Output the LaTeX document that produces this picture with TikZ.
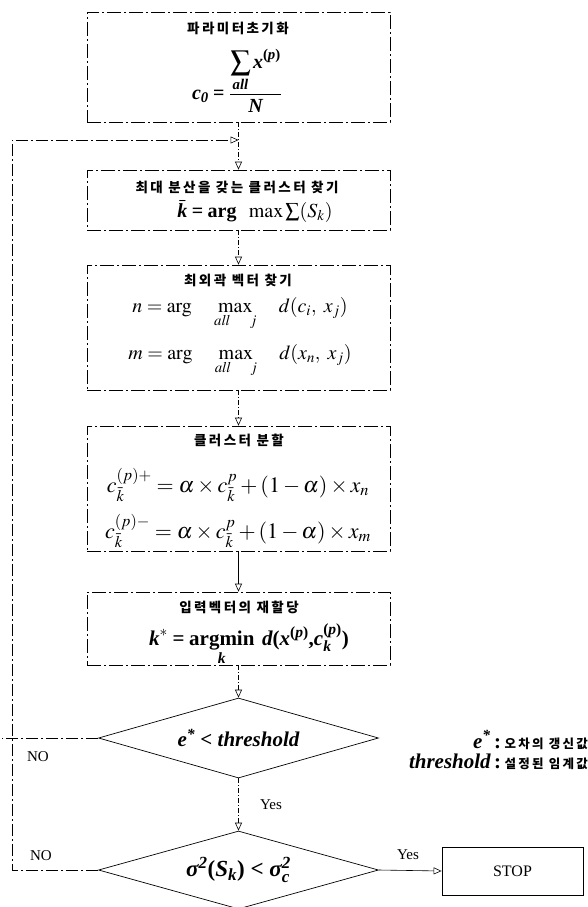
\documentclass[tikz,border=0pt]{standalone}
\usepackage{amsmath}
\usepackage{mathptmx}
\usepackage{fontspec}
\setmainfont{Liberation Serif}
\newfontfamily\kor[LetterSpace=18]{Noto Sans CJK KR}
\usetikzlibrary{arrows.meta,shapes.geometric}
\newcommand{\bix}[1]{\text{\bfseries\itshape #1}}
\newcommand{\bup}[1]{\text{\bfseries #1}}
\begin{document}
\begin{tikzpicture}[x=1pt,y=-1pt,
  box/.style={draw, line width=0.7pt, dash pattern=on 14pt off 3pt on 2pt off 3pt,
              minimum width=303pt, inner sep=0pt},
  conn/.style={line width=0.6pt, dash pattern=on 5pt off 2pt on 1pt off 2pt},
  loopst/.style={line width=0.6pt, dash pattern=on 12pt off 3pt on 2pt off 3pt},
  tipo/.style={-{Triangle[open,length=8pt,width=7pt]}},
  dia/.style={draw, diamond, aspect=3.5, minimum width=280pt, minimum height=80pt,
              inner sep=0pt, line width=0.7pt},
  kt/.style={font=\kor\bfseries\fontsize{13.5}{15}\selectfont, inner sep=0pt},
  lbl/.style={font=\fontsize{15}{17}\selectfont, inner sep=0pt},
  fm/.style={inner sep=0pt, anchor=base}]
\useasboundingbox (0,0) rectangle (588,907);

% boxes
\node[box, minimum height=110pt] (b1) at (238.5,67) {};
\node[box, minimum height=60pt]  (b2) at (238.5,200) {};
\node[box, minimum height=125pt] (b3) at (238.5,327.5) {};
\node[box, minimum height=125pt] (b4) at (238.5,488.5) {};
\node[box, minimum height=73pt]  (b5) at (238.5,628.5) {};

% box 1
\node[kt] (t1) at (238,28) {파라미터초기화};
\node[fm, font=\fontsize{20}{22}\selectfont] (f1) at (237,99)
  {$\bix{c}_{\bix{0}} \mathrel{\bup{=}} \dfrac{\displaystyle\sum_{\bix{all}} \bix{x}^{\bup{(}\bix{p}\bup{)}}}{\bix{N}}$};

% box 2
\node[kt] (t2) at (237,187) {최대 분산을 갖는 클러스터 찾기};
\node[fm, font=\fontsize{20}{22}\selectfont] (f2) at (255,217)
  {$\bar{\bix{k}} \mathrel{\bup{=}} \bup{arg}\ \ \max\textstyle\sum (S_k)$};

% box 3
\node[kt] (t3) at (238,280) {최외곽 벡터 찾기};
\node[fm, font=\fontsize{20}{22}\selectfont] (f3a) at (240,312)
  {$n = \mathrm{arg}\quad \mathop{\max}\limits_{\rule{0pt}{9pt}\mathit{all}\quad j}\quad d(c_i,\ x_j)$};
\node[fm, font=\fontsize{20}{22}\selectfont] (f3b) at (240,359)
  {$m = \mathrm{arg}\quad \mathop{\max}\limits_{\rule{0pt}{9pt}\mathit{all}\quad j}\quad d(x_n,\ x_j)$};

% box 4
\node[kt] (t4) at (239,440) {클러스터 분할};
\node[fm, font=\fontsize{22}{24}\selectfont] (f4a) at (238,492)
  {$c_{\bar{k}}^{(p)+} = \alpha\times c_{\bar{k}}^{p} + (1-\alpha)\times x_n$};
\node[fm, font=\fontsize{22}{24}\selectfont] (f4b) at (238,538)
  {$c_{\bar{k}}^{(p)-} = \alpha\times c_{\bar{k}}^{p} + (1-\alpha)\times x_m$};

% box 5
\node[kt] (t5) at (239,607) {입력벡터의 재할당};
\node[fm, font=\fontsize{21}{23}\selectfont] (f5) at (249,645)
  {$\bix{k}^{*} \mathrel{\bup{=}} \mathop{\bup{argmin}}\limits_{\bix{k}}\ \bix{d}\bup{(}\bix{x}^{\bup{(}\bix{p}\bup{)}}\bup{,}\bix{c}_{\bix{k}}^{\bup{(}\bix{p}\bup{)}}\bup{)}$};

% diamonds
\node[dia, font=\fontsize{21}{23}\selectfont] (d1) at (238.5,738)
  {\bfseries\itshape e$^{\text{\bfseries *}}$ \upshape<\itshape\ threshold};
\node[dia, minimum height=78pt, font=\fontsize{23}{25}\selectfont] (d2) at (238.5,870)
  {\bfseries\itshape σ$^{\text{\bfseries 2}}$\upshape(\itshape S$_{\bix{k}}$\upshape) <\itshape\ σ$^{\text{\bfseries 2}}_{\bix{c}}$};

% stop
\node[draw, line width=0.8pt, minimum width=141pt, minimum height=48pt, inner sep=0pt,
      font=\fontsize{16}{18}\selectfont] (stop) at (512.5,871) {STOP};

% legend
\node[inner sep=0pt, anchor=east] (leg) at (588,752)
  {\fontsize{21}{19}\selectfont\renewcommand\arraystretch{1}%
   \begin{tabular}{@{}r@{\,\textbf{:}\,}l@{}}
   \bfseries\itshape e$^{\text{*}}$ & {\kor\bfseries\fontsize{12.5}{14}\selectfont 오차의 갱신값}\\
   \bfseries\itshape threshold & {\kor\bfseries\fontsize{12.5}{14}\selectfont 설정된 임계값}
   \end{tabular}};

% labels
\node[lbl] (no1) at (38,757) {NO};
\node[lbl] (no2) at (41,856) {NO};
\node[lbl] (yes1) at (271,805) {Yes};
\node[lbl] (yes2) at (408,855) {Yes};

% loop coordinates
\coordinate (jn) at (238.5,140);
\coordinate (lt) at (12,140);
\coordinate (lb) at (12,870);
\coordinate (n1) at (2,738);

% connectors
\draw[conn,tipo] (b1.south) -- (b2.north);
\draw[conn,tipo] (b2.south) -- (b3.north);
\draw[conn,tipo] (b3.south) -- (b4.north);
\draw[line width=0.6pt,tipo] (b4.south) -- (b5.north);
\draw[conn,tipo] (b5.south) -- (d1.north);
\draw[conn,tipo] (d1.south) -- (d2.north);
\draw[line width=0.6pt,tipo] (d2.east) -- (stop.west);
\draw[loopst,tipo] (d2.west) -- (lb) -- (lt) -- (jn);
\draw[loopst] (d1.west) -- (n1);
\end{tikzpicture}
\end{document}
